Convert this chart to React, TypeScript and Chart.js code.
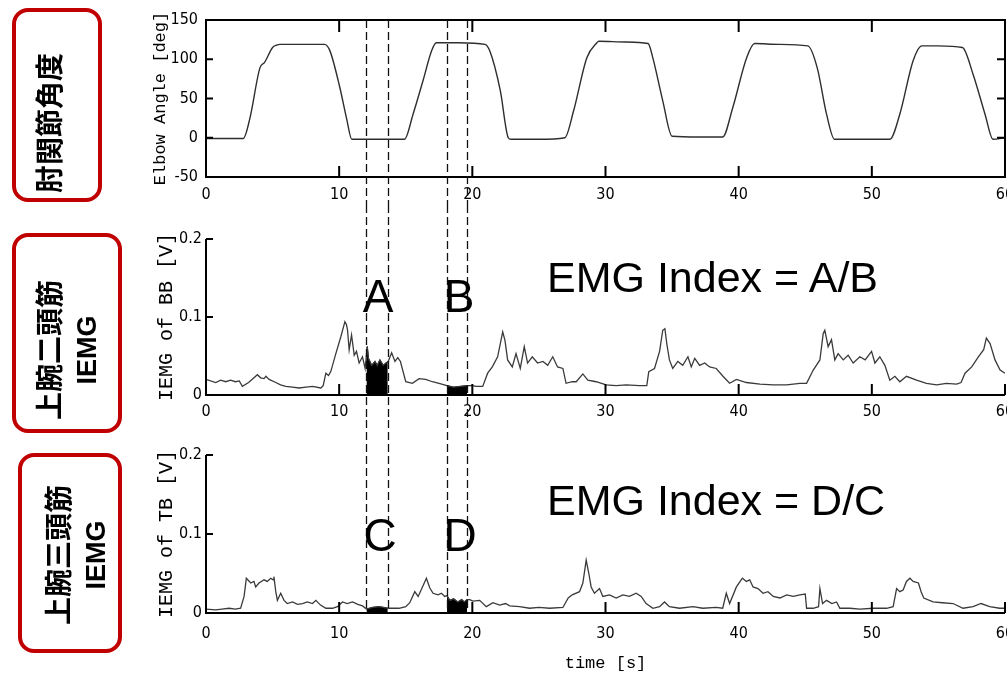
import React, { useEffect, useRef } from 'react';
import { Chart, registerables } from 'chart.js';

Chart.register(...registerables);

// ---------- data ----------
const timeTicks = [0, 10, 20, 30, 40, 50, 60];
const angleTicks = [-50, 0, 50, 100, 150];
const emgTicks = [0, 0.1, 0.2];
// boundaries of the two analysed windows (s)
const regionBounds = [12.05, 13.65, 18.1, 19.6];

// elbow angle [deg] : [time s, angle]
const elbowAngle: [number, number][] = [
  [0, -1], [1.5, -1], [2.8, -1], [3.3, 25], [4.05, 89], [4.4, 96], [5.0, 115], [5.3, 118], [5.55, 119], [7.0, 119],
  [8.9, 119], [9.3, 111], [10.05, 64], [10.55, 25], [10.95, -2], [13.0, -2], [14.9, -2], [15.55, 30], [16.3, 73], [16.95, 111],
  [17.3, 121], [19.0, 121], [20.95, 119], [21.3, 111], [22.1, 60], [22.7, 0], [22.9, -2], [25.0, -2], [26.95, 0], [27.6, 34],
  [28.6, 102], [29.35, 121], [29.5, 123], [31.5, 122], [33.2, 120], [33.55, 102], [34.3, 47], [35.0, 2], [37.0, 1], [38.8, 1],
  [39.55, 38], [40.6, 102], [41.2, 120], [43.0, 119], [45.2, 117], [45.9, 89], [46.6, 30], [47.2, -2], [49.0, -2], [51.35, -2],
  [52.1, 30], [53.1, 98], [53.75, 117], [55.0, 117], [56.8, 115], [57.6, 81], [58.5, 30], [59.1, -2], [60, 0],
];

// IEMG of biceps brachii [V]
const bbIemg: [number, number][] = [
  [0, 0.020], [0.73, 0.016], [1.1, 0.019], [1.48, 0.017], [1.85, 0.019], [2.2, 0.017], [2.5, 0.018], [2.73, 0.011], [3.2, 0.016], [3.86, 0.026],
  [4.1, 0.022], [4.36, 0.021], [4.5, 0.024], [4.74, 0.020], [5.24, 0.016], [5.6, 0.013], [5.99, 0.011], [6.5, 0.010], [7.0, 0.009], [7.5, 0.010],
  [8.0, 0.011], [8.62, 0.009], [8.8, 0.012], [9.0, 0.028], [9.2, 0.025], [9.37, 0.030], [9.75, 0.053], [10.13, 0.075], [10.43, 0.094], [10.55, 0.090],
  [10.63, 0.083], [10.75, 0.058], [10.93, 0.077], [11.13, 0.051], [11.3, 0.056], [11.5, 0.041], [11.75, 0.049], [11.95, 0.034], [12.11, 0.062], [12.2, 0.047],
  [12.44, 0.038], [12.69, 0.043], [12.86, 0.038], [13.06, 0.045], [13.31, 0.038], [13.51, 0.041], [13.68, 0.043], [13.94, 0.054], [14.19, 0.043], [14.4, 0.048],
  [14.6, 0.043], [15.0, 0.017], [15.5, 0.015], [16.0, 0.021], [16.5, 0.020], [17.0, 0.017], [17.5, 0.015], [18.1, 0.012], [18.6, 0.010], [19.1, 0.011],
  [19.6, 0.012], [20.0, 0.012], [20.3, 0.011], [20.78, 0.011], [21.15, 0.028], [21.5, 0.036], [21.9, 0.049], [22.28, 0.081], [22.45, 0.070], [22.65, 0.045],
  [23.0, 0.036], [23.28, 0.053], [23.6, 0.034], [23.9, 0.062], [24.15, 0.041], [24.5, 0.049], [24.9, 0.041], [25.3, 0.043], [25.66, 0.038], [26.04, 0.049],
  [26.4, 0.036], [26.8, 0.034], [27.04, 0.015], [27.5, 0.017], [27.8, 0.017], [28.3, 0.027], [28.67, 0.019], [29.3, 0.017], [30.05, 0.013], [30.8, 0.012],
  [31.55, 0.013], [32.55, 0.012], [33.1, 0.012], [33.25, 0.030], [33.68, 0.034], [34.06, 0.056], [34.3, 0.083], [34.46, 0.085], [34.6, 0.066], [34.8, 0.045],
  [35.05, 0.034], [35.43, 0.043], [35.8, 0.038], [36.19, 0.049], [36.44, 0.036], [36.7, 0.047], [37.07, 0.038], [37.45, 0.041], [37.82, 0.036], [38.32, 0.034],
  [38.82, 0.024], [39.32, 0.015], [39.83, 0.020], [40.58, 0.016], [41.6, 0.014], [42.6, 0.013], [43.6, 0.013], [44.6, 0.015], [45.1, 0.015], [45.6, 0.032],
  [46.1, 0.045], [46.35, 0.079], [46.47, 0.083], [46.72, 0.062], [46.97, 0.071], [47.22, 0.045], [47.47, 0.053], [47.85, 0.045], [48.22, 0.051], [48.6, 0.041],
  [49.1, 0.049], [49.5, 0.045], [49.98, 0.056], [50.23, 0.041], [50.6, 0.049], [50.98, 0.038], [51.35, 0.019], [51.73, 0.024], [52.1, 0.017], [52.6, 0.024],
  [53.36, 0.019], [54.1, 0.015], [54.87, 0.013], [55.6, 0.015], [56.37, 0.014], [56.7, 0.016], [57.0, 0.028], [57.5, 0.036], [58.0, 0.049], [58.4, 0.058],
  [58.6, 0.073], [58.88, 0.066], [59.25, 0.045], [59.63, 0.032], [60, 0.028],
];

// IEMG of triceps brachii [V]
const tbIemg: [number, number][] = [
  [0, 0.005], [0.73, 0.004], [1.2, 0.005], [1.73, 0.006], [2.2, 0.005], [2.6, 0.006], [2.86, 0.021], [3.03, 0.044], [3.36, 0.038], [3.6, 0.040],
  [3.73, 0.033], [3.98, 0.038], [4.36, 0.042], [4.6, 0.040], [4.86, 0.044], [5.04, 0.042], [5.1, 0.046], [5.24, 0.027], [5.36, 0.016], [5.61, 0.025],
  [5.86, 0.016], [6.1, 0.012], [6.5, 0.014], [6.87, 0.011], [7.25, 0.012], [7.6, 0.014], [8.0, 0.012], [8.25, 0.016], [8.6, 0.010], [9.0, 0.006],
  [9.5, 0.006], [9.87, 0.008], [10.25, 0.014], [10.6, 0.012], [11.0, 0.014], [11.4, 0.011], [11.75, 0.009], [12.05, 0.005], [12.5, 0.007], [13.0, 0.008],
  [13.65, 0.006], [14.0, 0.006], [14.5, 0.006], [15.0, 0.008], [15.3, 0.013], [15.68, 0.027], [15.93, 0.021], [16.18, 0.030], [16.55, 0.044], [16.8, 0.032],
  [17.05, 0.025], [17.43, 0.023], [17.68, 0.025], [17.93, 0.021], [18.1, 0.022], [18.3, 0.016], [18.6, 0.018], [18.9, 0.014], [19.2, 0.017], [19.4, 0.014],
  [19.6, 0.017], [19.8, 0.017], [20.05, 0.015], [20.55, 0.016], [21.05, 0.008], [21.55, 0.013], [22.05, 0.010], [22.5, 0.012], [22.8, 0.009], [23.55, 0.008],
  [24.3, 0.006], [25.0, 0.007], [25.8, 0.006], [26.8, 0.007], [27.2, 0.019], [27.5, 0.023], [28.05, 0.027], [28.3, 0.038], [28.55, 0.067], [28.75, 0.050],
  [28.92, 0.033], [29.17, 0.025], [29.55, 0.031], [29.8, 0.021], [30.3, 0.023], [30.8, 0.019], [31.3, 0.023], [31.8, 0.021], [32.3, 0.025], [32.68, 0.021],
  [33.05, 0.012], [33.56, 0.006], [34.06, 0.008], [34.43, 0.014], [34.8, 0.008], [35.56, 0.006], [36.57, 0.008], [37.3, 0.006], [38.3, 0.007], [38.8, 0.006],
  [39.07, 0.025], [39.32, 0.012], [39.83, 0.033], [40.28, 0.044], [40.58, 0.040], [40.83, 0.042], [41.08, 0.033], [41.45, 0.031], [41.83, 0.025], [42.2, 0.027],
  [42.6, 0.021], [43.1, 0.019], [43.6, 0.023], [44.1, 0.021], [44.6, 0.023], [45.0, 0.024], [45.1, 0.006], [45.6, 0.006], [46.0, 0.008], [46.1, 0.031],
  [46.3, 0.012], [46.6, 0.016], [47.0, 0.012], [47.35, 0.014], [47.6, 0.006], [48.35, 0.006], [49.1, 0.005], [50.1, 0.006], [51.1, 0.006], [51.6, 0.008],
  [51.86, 0.031], [52.1, 0.027], [52.35, 0.029], [52.6, 0.040], [52.86, 0.044], [53.1, 0.040], [53.5, 0.038], [53.7, 0.027], [53.9, 0.019], [54.6, 0.014],
  [55.3, 0.013], [56.1, 0.012], [56.85, 0.006], [57.6, 0.008], [58.2, 0.012], [58.85, 0.008], [59.6, 0.006], [60, 0.006],
];

// filled integration windows
const regionA: [number, number][] = [
  [12.05, 0.034], [12.11, 0.062], [12.2, 0.047], [12.44, 0.038], [12.69, 0.043], [12.86, 0.038], [13.06, 0.045], [13.31, 0.038], [13.51, 0.041], [13.65, 0.043],
];
const regionB: [number, number][] = [
  [18.1, 0.012], [18.6, 0.010], [19.1, 0.011], [19.6, 0.012],
];
const regionC: [number, number][] = [
  [12.05, 0.005], [12.5, 0.007], [13.0, 0.008], [13.65, 0.006],
];
const regionD: [number, number][] = [
  [18.1, 0.022], [18.3, 0.016], [18.6, 0.018], [18.9, 0.014], [19.2, 0.017], [19.4, 0.014], [19.6, 0.017],
];

// ---------- styling ----------
const NARROW = "'Liberation Sans Narrow', 'DejaVu Sans Condensed', 'Liberation Sans', Arial, sans-serif";
const MONO = "'Liberation Mono', 'DejaVu Sans Mono', monospace";
const SANS = "'Liberation Sans', Arial, 'Noto Sans CJK JP', sans-serif";
const RED = '#c00000';

const pts = (s: [number, number][]) => s.map(([x, y]) => ({ x, y }));

interface PanelSpec {
  padTop: number;
  xHeight: number;
  xPad: number;
  yPad: number;
  yTicks: number[];
  yMin: number;
  yMax: number;
  yTitle: string;
  yTitleSize: number;
  yTitlePad: number;
  box: boolean;
  dashTop: 'area' | 'canvas';
  dashBottom: 'area' | 'canvas';
  xTitle?: string;
  datasets: any[];
}

function decorPlugin(p: PanelSpec) {
  return {
    id: 'decor',
    afterDraw(chart: any) {
      const { ctx, chartArea: a, scales } = chart;
      const x = scales.x;
      const y = scales.y;
      ctx.save();
      ctx.strokeStyle = '#000';
      ctx.lineWidth = 2;
      ctx.setLineDash([]);
      if (p.box) {
        ctx.strokeRect(a.left, a.top, a.right - a.left, a.bottom - a.top);
      } else {
        ctx.beginPath();
        ctx.moveTo(a.left, a.top);
        ctx.lineTo(a.left, a.bottom);
        ctx.lineTo(a.right, a.bottom);
        ctx.stroke();
      }
      ctx.beginPath();
      for (const v of p.yTicks) {
        const py = y.getPixelForValue(v);
        ctx.moveTo(a.left, py);
        ctx.lineTo(a.left + 7, py);
        if (p.box) {
          ctx.moveTo(a.right, py);
          ctx.lineTo(a.right - 8, py);
        }
      }
      for (const v of timeTicks) {
        const px = x.getPixelForValue(v);
        ctx.moveTo(px, a.bottom);
        ctx.lineTo(px, a.bottom - 11);
        if (p.box) {
          ctx.moveTo(px, a.top);
          ctx.lineTo(px, a.top + 12);
        }
      }
      ctx.stroke();
      // dashed window boundaries
      ctx.setLineDash([8, 4]);
      ctx.lineWidth = 1.3;
      ctx.strokeStyle = '#111';
      const top = p.dashTop === 'area' ? a.top : 0;
      const bottom = p.dashBottom === 'area' ? a.bottom : chart.height;
      ctx.beginPath();
      for (const v of regionBounds) {
        const px = Math.round(x.getPixelForValue(v)) + 0.5;
        ctx.moveTo(px, top);
        ctx.lineTo(px, bottom);
      }
      ctx.stroke();
      ctx.restore();
    },
  };
}

function makeChart(canvas: HTMLCanvasElement, p: PanelSpec) {
  return new Chart(canvas, {
    type: 'line',
    data: { datasets: p.datasets },
    options: {
      animation: false,
      responsive: false,
      events: [],
      layout: { padding: { top: p.padTop, right: 2, left: 0, bottom: 0 } },
      plugins: { legend: { display: false }, tooltip: { enabled: false } },
      elements: { point: { radius: 0 } },
      scales: {
        x: {
          type: 'linear',
          min: 0,
          max: 60,
          grid: { display: false, drawTicks: false },
          border: { display: false },
          ticks: { color: '#000', font: { family: NARROW, size: 16 }, padding: p.xPad, maxRotation: 0, autoSkip: false },
          afterBuildTicks: (s: any) => { s.ticks = timeTicks.map((v) => ({ value: v })); },
          afterFit: (s: any) => { s.height = p.xHeight; s.paddingLeft = 0; s.paddingRight = 0; },
          title: p.xTitle
            ? { display: true, text: p.xTitle, color: '#000', font: { family: MONO, size: 17 }, padding: { top: 0, bottom: 1 } }
            : { display: false },
        },
        y: {
          type: 'linear',
          min: p.yMin,
          max: p.yMax,
          grid: { display: false, drawTicks: false },
          border: { display: false },
          ticks: { color: '#000', font: { family: NARROW, size: 16 }, padding: p.yPad },
          afterBuildTicks: (s: any) => { s.ticks = p.yTicks.map((v) => ({ value: v })); },
          afterFit: (s: any) => { s.width = 206; s.paddingTop = 0; s.paddingBottom = 0; },
          title: {
            display: true,
            text: p.yTitle,
            color: '#000',
            font: { family: MONO, size: p.yTitleSize },
            padding: { top: p.yTitlePad, bottom: 0 },
          },
        },
      },
    } as any,
    plugins: [decorPlugin(p)],
  });
}

const lineDs = (data: [number, number][], extra: any = {}) => ({
  data: pts(data),
  borderColor: '#3a3a3a',
  borderWidth: 1.3,
  fill: false,
  pointRadius: 0,
  tension: 0,
  ...extra,
});
const fillDs = (data: [number, number][]) => ({
  data: pts(data),
  borderColor: '#000',
  backgroundColor: '#000',
  borderWidth: 1,
  fill: 'origin',
  pointRadius: 0,
  tension: 0,
});

const panel1: PanelSpec = {
  padTop: 20, xHeight: 28, xPad: 8, yPad: 8,
  yTicks: angleTicks, yMin: -50, yMax: 150,
  yTitle: 'Elbow Angle [deg]', yTitleSize: 17, yTitlePad: 150,
  box: true, dashTop: 'area', dashBottom: 'canvas',
  datasets: [lineDs(elbowAngle, { borderColor: '#2e2e2e', borderWidth: 1.4, cubicInterpolationMode: 'monotone' })],
};
const panel2: PanelSpec = {
  padTop: 34, xHeight: 25, xPad: 7, yPad: 4,
  yTicks: emgTicks, yMin: 0, yMax: 0.2,
  yTitle: 'IEMG of BB [V]', yTitleSize: 20, yTitlePad: 155,
  box: false, dashTop: 'canvas', dashBottom: 'canvas',
  datasets: [lineDs(bbIemg), fillDs(regionA), fillDs(regionB)],
};
const panel3: PanelSpec = {
  padTop: 35, xHeight: 62, xPad: 11, yPad: 4,
  yTicks: emgTicks, yMin: 0, yMax: 0.2,
  yTitle: 'IEMG of TB [V]', yTitleSize: 20, yTitlePad: 155,
  box: false, dashTop: 'canvas', dashBottom: 'area',
  xTitle: 'time [s]',
  datasets: [lineDs(tbIemg), fillDs(regionC), fillDs(regionD)],
};

// ---------- components ----------
function RedBox({ left, top, width, height }: { left: number; top: number; width: number; height: number }) {
  return (
    <div
      style={{
        position: 'absolute', left, top, width, height, boxSizing: 'border-box',
        border: `4px solid ${RED}`, borderRadius: 16,
      }}
    />
  );
}

function VText({ cx, cy, lines, lineHeight }: { cx: number; cy: number; lines: { t: string; size: number }[]; lineHeight: number }) {
  return (
    <div
      style={{
        position: 'absolute', left: cx, top: cy,
        transform: 'translate(-50%, -50%) rotate(-90deg)',
        whiteSpace: 'nowrap', textAlign: 'center',
        fontFamily: "'Liberation Sans', Arial, 'Noto Sans CJK JP', sans-serif",
        fontWeight: 700, lineHeight: `${lineHeight}px`, color: '#000',
      }}
    >
      {lines.map((l) => (
        <div key={l.t} style={{ fontSize: l.size }}>{l.t}</div>
      ))}
    </div>
  );
}

function Label({ text, left, top, size, center }: { text: string; left: number; top: number; size: number; center?: boolean }) {
  return (
    <div
      style={{
        position: 'absolute', left, top, fontFamily: SANS, fontSize: size,
        lineHeight: `${size}px`, whiteSpace: 'nowrap', color: '#000',
        transform: center ? 'translateX(-50%)' : undefined,
      }}
    >
      {text}
    </div>
  );
}

export default function App() {
  const r1 = useRef<HTMLCanvasElement>(null);
  const r2 = useRef<HTMLCanvasElement>(null);
  const r3 = useRef<HTMLCanvasElement>(null);

  useEffect(() => {
    const charts = [
      makeChart(r1.current!, panel1),
      makeChart(r2.current!, panel2),
      makeChart(r3.current!, panel3),
    ];
    return () => charts.forEach((c) => c.destroy());
  }, []);

  return (
    <div style={{ position: 'absolute', left: 0, top: 0, width: 1007, height: 675, background: '#fff', overflow: 'hidden' }}>
      <canvas ref={r1} width={1007} height={205} style={{ position: 'absolute', left: 0, top: 0 }} />
      <canvas ref={r2} width={1007} height={215} style={{ position: 'absolute', left: 0, top: 205 }} />
      <canvas ref={r3} width={1007} height={255} style={{ position: 'absolute', left: 0, top: 420 }} />

      <RedBox left={12} top={8} width={90} height={194} />
      <VText cx={51} cy={123} lineHeight={36} lines={[{ t: '肘関節角度', size: 28 }]} />

      <RedBox left={12} top={233} width={110} height={200} />
      <VText cx={69} cy={350} lineHeight={36} lines={[{ t: '上腕二頭筋', size: 28 }, { t: 'IEMG', size: 27 }]} />

      <RedBox left={18} top={453} width={104} height={200} />
      <VText cx={78} cy={555} lineHeight={37} lines={[{ t: '上腕三頭筋', size: 28 }, { t: 'IEMG', size: 27 }]} />

      <Label text="EMG Index = A/B" left={547} top={256} size={43} />
      <Label text="EMG Index = D/C" left={547} top={479} size={43} />
      <Label text="A" left={378} top={273} size={46} center />
      <Label text="B" left={459} top={273} size={46} center />
      <Label text="C" left={380} top={512} size={46} center />
      <Label text="D" left={460} top={512} size={46} center />
    </div>
  );
}
